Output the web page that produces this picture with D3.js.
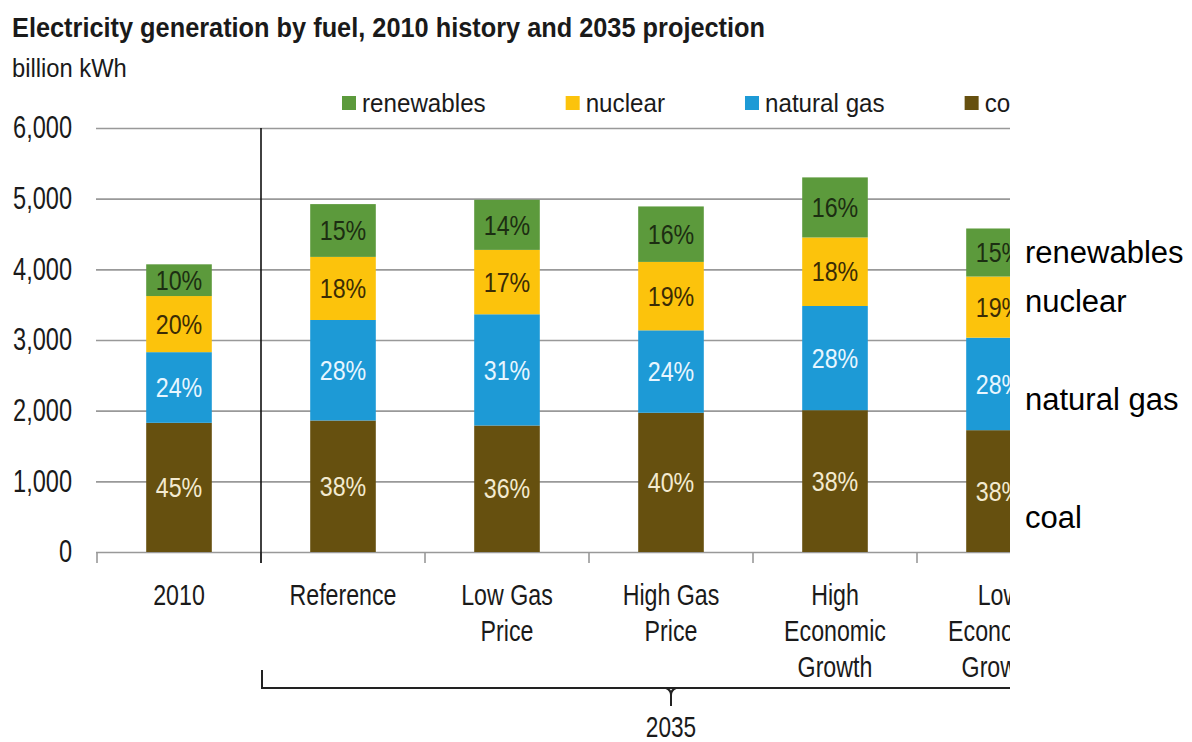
<!DOCTYPE html>
<html>
<head>
<meta charset="utf-8">
<script src="https://cdn.jsdelivr.net/npm/d3@7"></script>
<style>
  body { margin: 0; background: #fff; }
  svg { display: block; }
  text { font-family: "Liberation Sans", Arial, sans-serif; }
</style>
</head>
<body>
<script>
// chart values (billion kWh)
var categories = ["2010", "Reference", "Low Gas Price", "High Gas Price", "High Economic Growth", "Low Economic Growth"];
var catLines = [["2010"], ["Reference"], ["Low Gas", "Price"], ["High Gas", "Price"], ["High", "Economic", "Growth"], ["Low", "Economic", "Growth"]];
var fuels = ["coal", "natural gas", "nuclear", "renewables"];
var coal       = [1828, 1861, 1790, 1970, 2007, 1724];
var naturalGas = [1000, 1422, 1574, 1167, 1474, 1309];
var nuclear    = [794, 893, 911, 968, 970, 865];
var renewables = [449, 747, 709, 785, 850, 680];
var coalPct       = [45, 38, 36, 40, 38, 38];
var naturalGasPct = [24, 28, 31, 24, 28, 28];
var nuclearPct    = [20, 18, 17, 19, 18, 19];
var renewablesPct = [10, 15, 14, 16, 16, 15];
var yTicks = [0, 1000, 2000, 3000, 4000, 5000, 6000];
var legendOrder = ["renewables", "nuclear", "natural gas", "coal"];
var sideLabels = ["renewables", "nuclear", "natural gas", "coal"];
var sideLabelAt = [4240, 3550, 2160, 490];

var colors = {"coal": "#66500f", "natural gas": "#1d9ad6", "nuclear": "#fcc30c", "renewables": "#5c9a3c"};
var labelColors = {"coal": "#f3ead0", "natural gas": "#e8f6ff", "nuclear": "#3b2c05", "renewables": "#1c2e12"};

var series = {"coal": coal, "natural gas": naturalGas, "nuclear": nuclear, "renewables": renewables};
var shares = {"coal": coalPct, "natural gas": naturalGasPct, "nuclear": nuclearPct, "renewables": renewablesPct};

var rows = categories.map(function(c, i) {
  var r = {cat: c};
  fuels.forEach(function(f) { r[f] = series[f][i]; });
  return r;
});

var svg = d3.select("body").append("svg")
  .attr("width", 1192)
  .attr("height", 742);

// squeeze text horizontally (the source uses a narrow face)
function squeeze(sel, k) {
  sel.each(function() {
    var len = this.getComputedTextLength();
    d3.select(this).attr("textLength", len * k).attr("lengthAdjust", "spacingAndGlyphs");
  });
}

svg.append("defs").append("clipPath").attr("id", "cut")
  .append("rect").attr("x", 0).attr("y", 0).attr("width", 1010).attr("height", 742);

var chart = svg.append("g").attr("clip-path", "url(#cut)");

var x = d3.scaleBand()
  .domain(categories)
  .range([97, 1081])
  .paddingInner(0.6)
  .paddingOuter(0.3);

var y = d3.scaleLinear()
  .domain([0, 6000])
  .range([552, 128]);

// title
svg.append("text")
  .attr("x", 12).attr("y", 37)
  .attr("font-size", 28).attr("font-weight", "bold").attr("fill", "#1a1a1a")
  .attr("textLength", 753).attr("lengthAdjust", "spacingAndGlyphs")
  .text("Electricity generation by fuel, 2010 history and 2035 projection");

svg.append("text")
  .attr("x", 12).attr("y", 77)
  .attr("font-size", 25).attr("fill", "#1a1a1a")
  .text("billion kWh")
  .call(squeeze, 0.95);

// y axis with gridlines
var yAxis = chart.append("g")
  .attr("transform", "translate(96,0)")
  .call(d3.axisLeft(y)
    .tickValues(yTicks)
    .tickSize(-(1081 - 96))
    .tickPadding(24)
    .tickFormat(d3.format(",")));
yAxis.select(".domain").remove();
yAxis.selectAll(".tick line").attr("stroke", "#999").attr("stroke-width", 1.6);
yAxis.selectAll(".tick text")
  .attr("font-size", 31)
  .attr("fill", "#1a1a1a")
  .attr("font-family", "Liberation Sans, Arial, sans-serif")
  .call(squeeze, 0.76);

// category boundary ticks
var step = x.step();
var gap = (step - x.bandwidth()) / 2;
var bounds = categories.map(function(c) { return x(c) - gap; });
bounds.push(x(categories[categories.length - 1]) + x.bandwidth() + gap);

chart.selectAll(".cattick")
  .data(bounds)
  .enter().append("line")
  .attr("class", "cattick")
  .attr("x1", function(d) { return d; })
  .attr("x2", function(d) { return d; })
  .attr("y1", y(0))
  .attr("y2", y(0) + 11)
  .attr("stroke", "#999")
  .attr("stroke-width", 1.6);

// divider between history and projections
chart.append("line")
  .attr("x1", bounds[1]).attr("x2", bounds[1])
  .attr("y1", y(6000)).attr("y2", y(0) + 11)
  .attr("stroke", "#111")
  .attr("stroke-width", 1.6);

// stacked bars
var stack = d3.stack().keys(fuels)(rows);

var layers = chart.selectAll(".layer")
  .data(stack)
  .enter().append("g")
  .attr("class", "layer")
  .attr("fill", function(d) { return colors[d.key]; });

layers.selectAll("rect")
  .data(function(d) { return d; })
  .enter().append("rect")
  .attr("x", function(d) { return x(d.data.cat); })
  .attr("width", x.bandwidth())
  .attr("y", function(d) { return y(d[1]); })
  .attr("height", function(d) { return y(d[0]) - y(d[1]); });

layers.selectAll("text")
  .data(function(d) { return d.map(function(p, i) { return {p: p, key: d.key, i: i}; }); })
  .enter().append("text")
  .attr("x", function(d) { return x(d.p.data.cat) + x.bandwidth() / 2; })
  .attr("y", function(d) { return (y(d.p[0]) + y(d.p[1])) / 2; })
  .attr("dy", "0.36em")
  .attr("text-anchor", "middle")
  .attr("font-size", 27)
  .attr("fill", function(d) { return labelColors[d.key]; })
  .text(function(d) { return shares[d.key][d.i] + "%"; })
  .call(squeeze, 0.86);

// category labels
categories.forEach(function(c, i) {
  chart.selectAll(null)
    .data(catLines[i])
    .enter().append("text")
    .attr("x", x(c) + x.bandwidth() / 2)
    .attr("y", function(d, j) { return 605 + j * 36; })
    .attr("text-anchor", "middle")
    .attr("font-size", 29)
    .attr("fill", "#1a1a1a")
    .text(function(d) { return d; })
    .call(squeeze, 0.8);
});

// 2035 bracket
var bLeft = bounds[1], bRight = bounds[bounds.length - 1];
var bMid = (bLeft + bRight) / 2;
chart.append("path")
  .attr("d", "M" + (bLeft + 1) + ",670 L" + (bLeft + 1) + ",688 L" + bRight + ",688")
  .attr("fill", "none")
  .attr("stroke", "#222")
  .attr("stroke-width", 2);
chart.append("path")
  .attr("d", "M" + (bMid - 5) + ",688 Q" + bMid + ",690 " + bMid + ",695 L" + bMid + ",706 M" + (bMid + 5) + ",688 Q" + bMid + ",690 " + bMid + ",695")
  .attr("fill", "none")
  .attr("stroke", "#222")
  .attr("stroke-width", 2);
chart.append("text")
  .attr("x", bMid).attr("y", 737)
  .attr("text-anchor", "middle")
  .attr("font-size", 29)
  .attr("fill", "#1a1a1a")
  .text("2035")
  .call(squeeze, 0.78);

// legend
var lx = 342;
legendOrder.forEach(function(f) {
  chart.append("rect")
    .attr("x", lx).attr("y", 96)
    .attr("width", 14).attr("height", 14)
    .attr("fill", colors[f]);
  var t = chart.append("text")
    .attr("x", lx + 20).attr("y", 112)
    .attr("font-size", 26)
    .attr("fill", "#1a1a1a")
    .text(f)
    .call(squeeze, 0.93);
  lx = lx + 20 + (+t.attr("textLength")) + 80;
});

// labels beside the cut-off chart
svg.selectAll(".side")
  .data(sideLabels)
  .enter().append("text")
  .attr("class", "side")
  .attr("x", 1025)
  .attr("y", function(d, i) { return y(sideLabelAt[i]); })
  .attr("dy", "0.35em")
  .attr("font-size", 31)
  .attr("fill", "#000")
  .text(function(d) { return d; });
</script>
</body>
</html>
